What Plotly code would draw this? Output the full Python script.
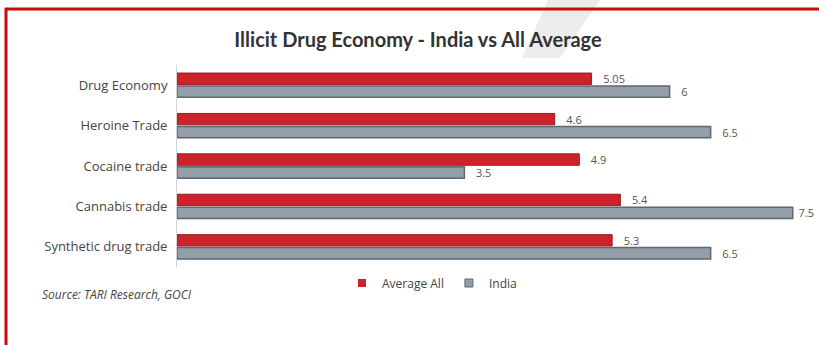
import plotly.graph_objects as go

categories = ["Drug Economy", "Heroine Trade", "Cocaine trade", "Cannabis trade", "Synthetic drug trade"]
average_all = [5.05, 4.6, 4.9, 5.4, 5.3]
india = [6, 6.5, 3.5, 7.5, 6.5]
avg_labels = ["5.05", "4.6", "4.9", "5.4", "5.3"]
india_labels = ["6", "6.5", "3.5", "7.5", "6.5"]

W, H = 819, 345
L, R, T, B = 177, 0, 65, 78
pw, ph = W - L - R, H - T - B

def px(x):
    return (x - L) / pw

def py(y):
    return (H - B - y) / ph

FONT = "Open Sans"
RED, RED_EDGE = "#cc232b", "#a0161c"
GRAY, GRAY_EDGE = "#939ea8", "#5d6872"

fig = go.Figure()
fig.add_trace(go.Bar(
    y=categories, x=average_all, name="Average All", orientation="h",
    marker=dict(color=RED, line=dict(color=RED_EDGE, width=1)),
    text=avg_labels, texttemplate="   %{text}", textposition="outside", cliponaxis=False,
    constraintext="none", showlegend=False,
    textfont=dict(family=FONT, size=11, color="#555555"),
))
fig.add_trace(go.Bar(
    y=categories, x=india, name="India", orientation="h",
    marker=dict(color=GRAY, line=dict(color=GRAY_EDGE, width=1.5)),
    text=india_labels,
    texttemplate=["   %{text}", "   %{text}", "   %{text}", " %{text}", "   %{text}"],
    textposition="outside", cliponaxis=False,
    constraintext="none", showlegend=False,
    textfont=dict(family=FONT, size=11, color="#555555"),
))
# legend entries with small square keys
fig.add_trace(go.Scatter(x=[None], y=[None], mode="markers", name="Average All",
                         marker=dict(symbol="square", size=8, color=RED)))
fig.add_trace(go.Scatter(x=[None], y=[None], mode="markers", name="India",
                         marker=dict(symbol="square", size=8, color=GRAY,
                                     line=dict(color=GRAY_EDGE, width=1))))

shapes = [
    dict(type="path", xref="paper", yref="paper",
         path=f"M {px(548)} {py(0)} L {px(600)} {py(0)} L {px(560)} {py(58)} L {px(522)} {py(58)} Z",
         fillcolor="#ececec", line=dict(width=0), layer="below"),
    dict(type="line", xref="paper", yref="paper", x0=px(5), x1=px(822), y0=py(9), y1=py(9),
         line=dict(color="#cc0a0a", width=3)),
    dict(type="line", xref="paper", yref="paper", x0=px(6), x1=px(6), y0=py(8), y1=py(350),
         line=dict(color="#cc0a0a", width=3)),
]

fig.update_layout(
    width=W, height=H,
    margin=dict(l=L, r=R, t=T, b=B, autoexpand=False),
    paper_bgcolor="white", plot_bgcolor="white",
    barmode="group", bargap=0.36, bargroupgap=0.12,
    title=dict(text="<b>Illicit Drug Economy - India vs All Average</b>",
               x=418 / W, xref="container", xanchor="center", y=1 - 40 / H, yanchor="middle",
               font=dict(family="Lato", size=20, color="#333333")),
    xaxis=dict(range=[0, pw / 82.1], showgrid=False, showticklabels=False, zeroline=False,
               showline=False, fixedrange=True),
    yaxis=dict(autorange="reversed", showgrid=False, showline=True, linecolor="#d5d5d5",
               linewidth=1, ticks="outside", ticklen=6, tickcolor="rgba(0,0,0,0)",
               tickfont=dict(family=FONT, size=13, color="#444444")),
    legend=dict(orientation="h", x=px(432), xanchor="center", y=py(283), yanchor="middle",
                font=dict(family=FONT, size=12, color="#444444"), itemwidth=30,
                traceorder="normal"),
    shapes=shapes,
    annotations=[dict(text="<i>Source: TARI Research, GOCI</i>", xref="paper", yref="paper",
                      x=px(40), y=py(294), xanchor="left", yanchor="middle", showarrow=False,
                      font=dict(family=FONT, size=12, color="#444444"))],
    showlegend=True,
)

fig.write_html("out.html", config={"displayModeBar": False},
               post_script="document.body.style.margin='0';")
